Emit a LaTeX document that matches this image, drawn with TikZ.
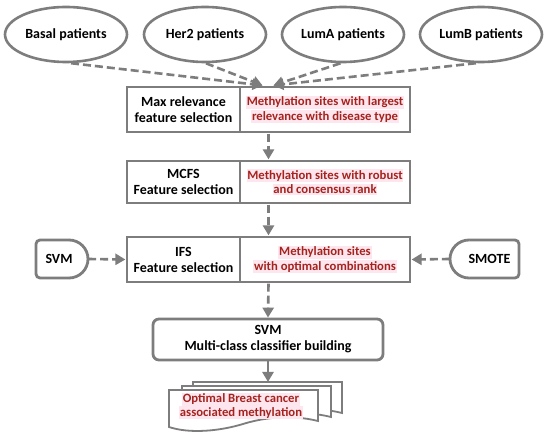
\documentclass[tikz,border=0pt]{standalone}
\usepackage{fontspec}
\setmainfont{Carlito}
\usetikzlibrary{shapes.geometric,arrows.meta,fit}
\definecolor{linegray}{RGB}{125,125,125}
\definecolor{redtxt}{RGB}{165,35,30}
\definecolor{pinkhl}{RGB}{253,230,238}
\newcommand\hlr[1]{{\setlength{\fboxsep}{0.8pt}\colorbox{pinkhl}{#1}}}
\begin{document}
\begin{tikzpicture}[x=1pt,y=-1pt,
  ell/.style={ellipse,draw=linegray,line width=2.6pt,minimum width=122pt,minimum height=55pt,inner sep=0pt,font=\bfseries\fontsize{14}{16}\selectfont,fill=white},
  lbox/.style={rectangle,draw=linegray,line width=2.8pt,align=center,font=\bfseries\fontsize{14}{16}\selectfont,inner sep=0pt},
  rbox/.style={rectangle,draw=linegray,line width=2.8pt,align=center,font=\bfseries\fontsize{12.7}{16}\selectfont,text=redtxt,inner sep=0pt},
  side/.style={rectangle,inner sep=0pt,font=\bfseries\fontsize{14}{16}\selectfont},
  shapeline/.style={draw=linegray,line width=2.8pt,fill=white},
  dasharrow/.style={draw=linegray,line width=2.6pt,dash pattern=on 8pt off 4pt,-{Triangle[length=10pt,width=11pt]}},
  solidarrow/.style={draw=linegray,line width=2.6pt,-{Triangle[length=10pt,width=11pt]}},
]
\useasboundingbox[fill=white] (0,0) rectangle (550,435);

% patient ellipses
\node[ell] (basal) at (66,34.5) {Basal patients};
\node[ell] (her2) at (205,34.5) {Her2 patients};
\node[ell] (luma) at (343,34.5) {LumA patients};
\node[ell] (lumb) at (481,34.5) {LumB patients};

% box 1
\node[lbox,minimum width=113pt,minimum height=45pt] (b1l) at (183.5,109.5) {Max relevance\\feature selection};
\node[rbox,minimum width=170pt,minimum height=45pt] (b1r) at (325,109.5) {\hlr{Methylation sites with largest}\\[-1.6pt]\hlr{relevance with disease type}};
\node[fit=(b1l)(b1r),inner sep=0pt] (b1) {};

% box 2
\node[lbox,minimum width=113pt,minimum height=42pt] (b2l) at (183.5,182) {MCFS\\Feature selection};
\node[rbox,minimum width=170pt,minimum height=42pt] (b2r) at (325,182) {\hlr{Methylation sites with robust}\\[-1.6pt]\hlr{and consensus rank}};
\node[fit=(b2l)(b2r),inner sep=0pt] (b2) {};

% box 3
\node[lbox,minimum width=113pt,minimum height=45pt] (b3l) at (183.5,259.5) {IFS\\Feature selection};
\node[rbox,minimum width=170pt,minimum height=45pt] (b3r) at (325,259.5) {\hlr{Methylation sites}\\[-1.6pt]\hlr{with optimal combinations}};
\node[fit=(b3l)(b3r),inner sep=0pt] (b3) {};

% side shapes
\draw[shapeline,rounded corners=4pt] (69,240) -- (36,240) -- (36,278) -- (69,278);
\draw[shapeline] (69,278) arc[start angle=90,end angle=-90,radius=19];
\node[side,minimum width=52pt,minimum height=38pt] (svm) at (62,259) {\hspace{-6pt}SVM};

\draw[shapeline,rounded corners=4pt] (469,240) -- (519,240) -- (519,278) -- (469,278);
\draw[shapeline] (469,240) arc[start angle=-90,end angle=-270,radius=19];
\node[side,minimum width=69pt,minimum height=38pt] (smote) at (484.5,259) {\hspace{10pt}SMOTE};

% box 4
\node[lbox,rounded corners=6pt,minimum width=230pt,minimum height=41pt] (b4) at (268,339.5) {SVM\\Multi-class classifier building};

% document stack
\foreach \dx/\dy in {24/-8,13/-4,0/0}{
  \begin{scope}[shift={(\dx,\dy)}]
    \draw[shapeline,line width=1.8pt] (169,390) -- (318,390) -- (318,421)
      .. controls (290,414) and (262,418) .. (243,424)
      .. controls (220,431) and (190,434) .. (169,427) -- cycle;
  \end{scope}
}
\coordinate (doctop) at (268,382);
\node[font=\bfseries\fontsize{12.7}{15}\selectfont,text=redtxt,align=center,inner sep=0pt] (doc) at (241,406) {\hlr{Optimal Breast cancer}\\[-1.6pt]\hlr{associated methylation}};

% connectors
\draw[dasharrow] (basal.-80) -- ([xshift=-6pt]b1.north);
\draw[dasharrow] (her2.-88) -- ([xshift=-6pt]b1.north);
\draw[dasharrow] (luma.-95) -- ([xshift=5pt]b1.north);
\draw[dasharrow] (lumb.-100) -- ([xshift=5pt]b1.north);
\draw[dasharrow] (b1.south) -- (b2.north);
\draw[dasharrow] (b2.south) -- (b3.north);
\draw[dasharrow] (svm.east) -- (b3.west);
\draw[dasharrow] (smote.west) -- (b3.east);
\draw[dasharrow] (b3.south) -- (b4.north);
\draw[solidarrow] (b4.south) -- (doctop);
\end{tikzpicture}
\end{document}
